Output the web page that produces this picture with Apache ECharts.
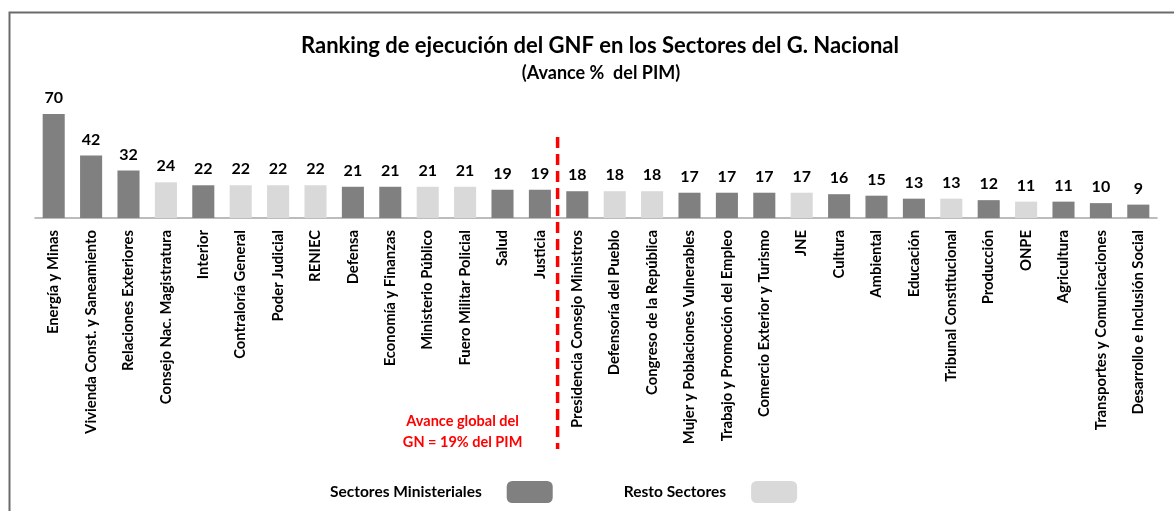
<!DOCTYPE html>
<html>
<head>
<meta charset="utf-8">
<script src="https://cdn.jsdelivr.net/npm/echarts@6/dist/echarts.min.js"></script>
<style>
  html, body { margin: 0; padding: 0; background: #fff; }
  #main { width: 1174px; height: 511px; }
</style>
</head>
<body>
<div id="main"></div>
<script>
// sectores y avance (%)
const sectores = [
  'Energía y Minas', 'Vivienda Const. y Saneamiento', 'Relaciones Exteriores',
  'Consejo Nac. Magistratura', 'Interior', 'Contraloría General', 'Poder Judicial',
  'RENIEC', 'Defensa', 'Economía y Finanzas', 'Ministerio Público',
  'Fuero Militar Policial', 'Salud', 'Justicia', 'Presidencia Consejo Ministros',
  'Defensoría del Pueblo', 'Congreso de la República', 'Mujer y Poblaciones Vulnerables',
  'Trabajo y Promoción del Empleo', 'Comercio Exterior y Turismo', 'JNE', 'Cultura',
  'Ambiental', 'Educación', 'Tribunal Constitucional', 'Producción', 'ONPE',
  'Agricultura', 'Transportes y Comunicaciones', 'Desarrollo e Inclusión Social'
]
const avance = [70, 42, 32, 24, 22, 22, 22, 22, 21, 21, 21, 21, 19, 19, 18,
  18, 18, 17, 17, 17, 17, 16, 15, 13, 13, 12, 11, 11, 10, 9]
// 1 = sector ministerial, 0 = resto
const ministerial = [1, 1, 1, 0, 1, 0, 0, 0, 1, 1, 0, 0, 1, 1, 1,
  0, 0, 1, 1, 1, 0, 1, 1, 1, 0, 1, 0, 1, 1, 1]
const avanceGlobal = 19

const FONT = 'Lato, "Noto Sans", sans-serif'

const dataMin = avance.map((v, i) => ministerial[i] ? v : '-')
const dataResto = avance.map((v, i) => ministerial[i] ? '-' : v)

const labelCfg = {
  show: true,
  position: 'top',
  distance: 8,
  color: '#000',
  fontFamily: FONT,
  fontWeight: 'bold',
  fontSize: 16
}

let myChart = echarts.init(document.getElementById('main'))

let options = {
  animation: false,
  title: [
    {
      text: 'Ranking de ejecución del GNF en los Sectores del G. Nacional',
      left: 600,
      top: 35,
      textAlign: 'center',
      padding: 0,
      textStyle: {fontFamily: FONT, fontSize: 22, fontWeight: 'bold', color: '#000'}
    },
    {
      text: '(Avance %  del PIM)',
      left: 601,
      top: 64,
      textAlign: 'center',
      padding: 0,
      textStyle: {fontFamily: FONT, fontSize: 18, fontWeight: 'bold', color: '#000'}
    }
  ],
  legend: {
    data: ['Sectores Ministeriales', 'Resto Sectores'],
    left: 330,
    top: 481,
    padding: 0,
    align: 'right',
    itemWidth: 46,
    itemHeight: 22,
    itemGap: 71,
    selectedMode: false,
    icon: 'roundRect',
    textStyle: {fontFamily: FONT, fontSize: 15.5, fontWeight: 'bold', color: '#000', padding: [0, 20, 0, 0]}
  },
  grid: {
    left: 35,
    right: 17,
    top: 99,
    bottom: 293
  },
  xAxis: {
    type: 'category',
    data: sectores,
    axisLine: {lineStyle: {color: '#a6a6a6', width: 1.5}},
    axisTick: {length: 5, lineStyle: {color: '#a6a6a6'}},
    axisLabel: {
      rotate: 90,
      margin: 12,
      interval: 0,
      color: '#000',
      fontFamily: FONT,
      fontWeight: 'bold',
      fontSize: 14.8
    }
  },
  yAxis: {
    type: 'value',
    min: 0,
    max: 80,
    show: false
  },
  series: [
    {
      name: 'Sectores Ministeriales',
      type: 'bar',
      data: dataMin,
      barWidth: '59%',
      barGap: '-100%',
      itemStyle: {color: '#808080'},
      label: labelCfg
    },
    {
      name: 'Resto Sectores',
      type: 'bar',
      data: dataResto,
      barWidth: '59%',
      barGap: '-100%',
      itemStyle: {color: '#d9d9d9'},
      label: labelCfg
    }
  ]
}
myChart.setOption(options)

// linea roja: entre el ultimo sector >= avance global y el siguiente
const corte = avance.findIndex(v => v < avanceGlobal)
const x1 = myChart.convertToPixel({xAxisIndex: 0}, corte - 1)
const x2 = myChart.convertToPixel({xAxisIndex: 0}, corte)
const xLinea = (x1 + x2) / 2 - 1

myChart.setOption({
  graphic: [
    {
      type: 'polyline',
      shape: {points: [[9.5, 511], [9.5, 12.5], [1174, 12.5]]},
      style: {stroke: '#6b6b6b', lineWidth: 2, fill: null},
      silent: true
    },
    {
      type: 'line',
      shape: {x1: xLinea, y1: 137, x2: xLinea, y2: 449},
      style: {stroke: '#ff0000', lineWidth: 3.5, lineDash: [11, 6]},
      silent: true
    },
    {
      type: 'text',
      x: xLinea - 95,
      y: 411,
      style: {
        text: 'Avance global del\nGN = ' + avanceGlobal + '% del PIM',
        fill: '#ff0000',
        font: 'bold 14.5px ' + FONT,
        align: 'center',
        lineHeight: 21
      },
      silent: true
    }
  ]
})
</script>
</body>
</html>
